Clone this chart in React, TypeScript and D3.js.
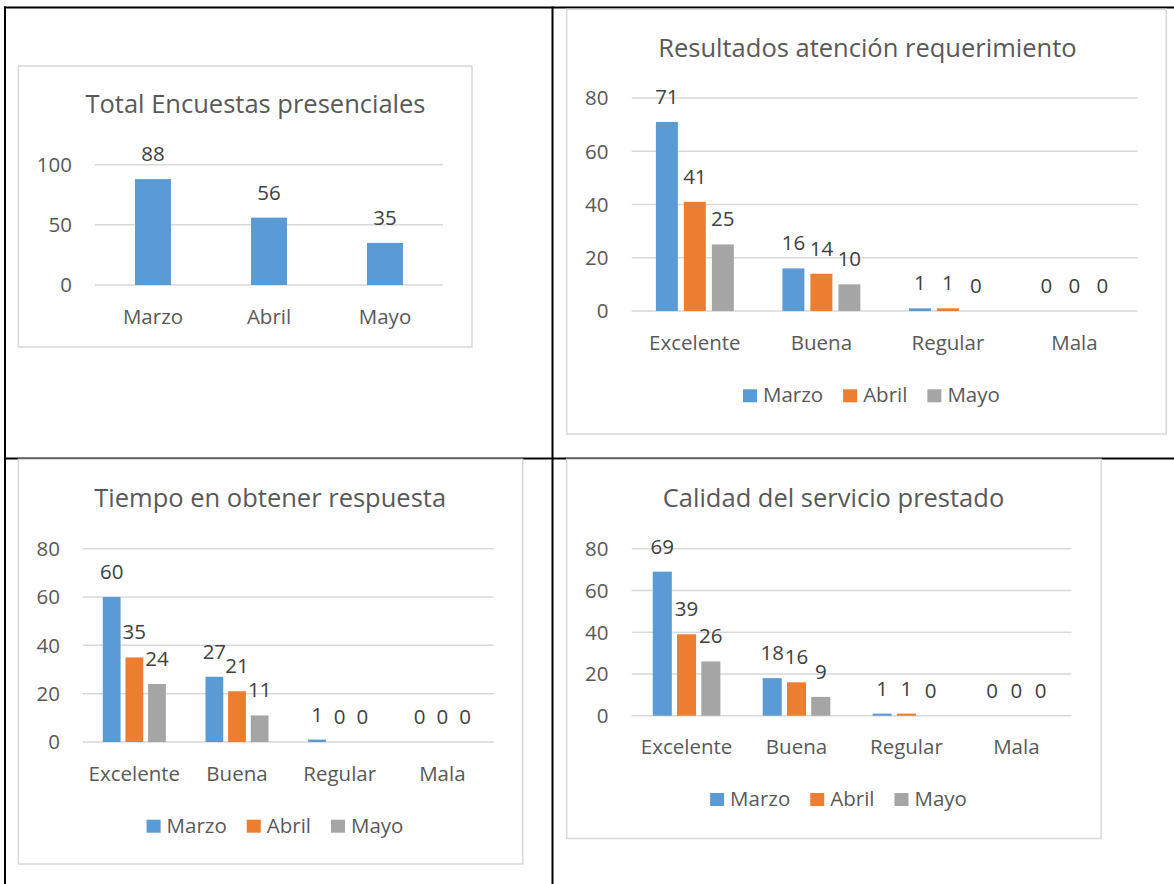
import React, { useEffect, useRef } from 'react';
import * as d3 from 'd3';

// Values
const months = ['Marzo', 'Abril', 'Mayo'];
const totalEncuestas = [88, 56, 35];

const ratings = ['Excelente', 'Buena', 'Regular', 'Mala'];

const atencionMarzo = [71, 16, 1, 0];
const atencionAbril = [41, 14, 1, 0];
const atencionMayo = [25, 10, 0, 0];

const tiempoMarzo = [60, 27, 1, 0];
const tiempoAbril = [35, 21, 0, 0];
const tiempoMayo = [24, 11, 0, 0];

const calidadMarzo = [69, 18, 1, 0];
const calidadAbril = [39, 16, 1, 0];
const calidadMayo = [26, 9, 0, 0];

const ticks100 = [0, 50, 100];
const ticks80 = [0, 20, 40, 60, 80];

const seriesColors = ['#5b9bd5', '#ed7d31', '#a5a5a5'];

const WIDTH = 1174;
const HEIGHT = 884;
const FONT = "'Open Sans', 'Liberation Sans', sans-serif";

interface Series {
  name: string;
  values: number[];
}

interface Panel {
  title: string;
  box: [number, number, number, number];
  titleX: number;
  titleY: number;
  plotX: [number, number];
  plotY: [number, number];
  yMax: number;
  ticks: number[];
  tickX: number;
  categories: string[];
  series: Series[];
  groupFrac: number;
  legend?: { cx: number; y: number };
}

const panels: Panel[] = [
  {
    title: 'Total Encuestas presenciales',
    box: [18.4, 66, 472, 347],
    titleX: 255.5,
    titleY: 112.5,
    plotX: [95, 443],
    plotY: [285, 164.7],
    yMax: 100,
    ticks: ticks100,
    tickX: 72,
    categories: months,
    series: [{ name: 'Total', values: totalEncuestas }],
    groupFrac: 0.31,
  },
  {
    title: 'Resultados atención requerimiento',
    box: [566.7, 9.3, 1166.3, 434],
    titleX: 867.4,
    titleY: 56.7,
    plotX: [631.6, 1137.7],
    plotY: [311, 98],
    yMax: 80,
    ticks: ticks80,
    tickX: 608.5,
    categories: ratings,
    series: [
      { name: 'Marzo', values: atencionMarzo },
      { name: 'Abril', values: atencionAbril },
      { name: 'Mayo', values: atencionMayo },
    ],
    groupFrac: 0.616,
    legend: { cx: 871.4, y: 402.3 },
  },
  {
    title: 'Tiempo en obtener respuesta',
    box: [18.4, 459.3, 522.8, 864],
    titleX: 270.2,
    titleY: 506.7,
    plotX: [83, 493.7],
    plotY: [742, 548.7],
    yMax: 80,
    ticks: ticks80,
    tickX: 60,
    categories: ratings,
    series: [
      { name: 'Marzo', values: tiempoMarzo },
      { name: 'Abril', values: tiempoAbril },
      { name: 'Mayo', values: tiempoMayo },
    ],
    groupFrac: 0.614,
    legend: { cx: 275, y: 832.7 },
  },
  {
    title: 'Calidad del servicio prestado',
    box: [566.7, 459.3, 1101.1, 838.5],
    titleX: 833.5,
    titleY: 506.7,
    plotX: [631.6, 1071.3],
    plotY: [715.7, 548.7],
    yMax: 80,
    ticks: ticks80,
    tickX: 608.5,
    categories: ratings,
    series: [
      { name: 'Marzo', values: calidadMarzo },
      { name: 'Abril', values: calidadAbril },
      { name: 'Mayo', values: calidadMayo },
    ],
    groupFrac: 0.615,
    legend: { cx: 838.5, y: 806 },
  },
];

const drawPanel = (root: d3.Selection<SVGGElement, unknown, null, undefined>, p: Panel) => {
  const g = root.append('g');
  const [bx0, by0, bx1, by1] = p.box;

  g.append('rect')
    .attr('x', bx0)
    .attr('y', by0)
    .attr('width', bx1 - bx0)
    .attr('height', by1 - by0)
    .attr('fill', '#fff')
    .attr('stroke', '#d9d9d9')
    .attr('stroke-width', 1.5);

  g.append('text')
    .attr('x', p.titleX)
    .attr('y', p.titleY)
    .attr('text-anchor', 'middle')
    .attr('font-size', 25.5)
    .attr('fill', '#595959')
    .text(p.title);

  const pad = 1 - p.groupFrac;
  const x = d3.scaleBand<string>().domain(p.categories).range(p.plotX).paddingInner(pad).paddingOuter(pad / 2);
  const xs = d3
    .scaleBand<string>()
    .domain(p.series.map(s => s.name))
    .range([0, x.bandwidth()])
    .paddingInner(p.series.length > 1 ? 0.215 : 0);
  const y = d3.scaleLinear().domain([0, p.yMax]).range(p.plotY);

  // Gridlines
  g.append('g')
    .selectAll('line')
    .data(p.ticks)
    .enter()
    .append('line')
    .attr('x1', p.plotX[0])
    .attr('x2', p.plotX[1])
    .attr('y1', d => y(d))
    .attr('y2', d => y(d))
    .attr('stroke', '#d9d9d9')
    .attr('stroke-width', 1.5);

  // Tick labels
  g.append('g')
    .selectAll('text')
    .data(p.ticks)
    .enter()
    .append('text')
    .attr('x', p.tickX)
    .attr('y', d => y(d) + 7.3)
    .attr('text-anchor', 'end')
    .attr('font-size', 20.5)
    .attr('fill', '#595959')
    .text(d => String(d));

  // Bars + value labels
  p.series.forEach((s, si) => {
    const color = p.series.length > 1 ? seriesColors[si] : seriesColors[0];
    const sg = g.append('g');
    sg.selectAll('rect')
      .data(s.values)
      .enter()
      .append('rect')
      .attr('x', (_, i) => (x(p.categories[i]) ?? 0) + (xs(s.name) ?? 0))
      .attr('y', d => y(d))
      .attr('width', xs.bandwidth())
      .attr('height', d => y(0) - y(d))
      .attr('fill', color);

    sg.selectAll('text')
      .data(s.values)
      .enter()
      .append('text')
      .attr('x', (_, i) => (x(p.categories[i]) ?? 0) + (xs(s.name) ?? 0) + xs.bandwidth() / 2)
      .attr('y', d => y(d) - 18)
      .attr('text-anchor', 'middle')
      .attr('font-size', 20.5)
      .attr('fill', '#404040')
      .text(d => String(d));
  });

  // Category labels
  g.append('g')
    .selectAll('text')
    .data(p.categories)
    .enter()
    .append('text')
    .attr('x', d => (x(d) ?? 0) + x.bandwidth() / 2)
    .attr('y', y(0) + 38.5)
    .attr('text-anchor', 'middle')
    .attr('font-size', 20.5)
    .attr('fill', '#595959')
    .text(d => d);

  // Legend
  if (p.legend) {
    const lg = g.append('g');
    const items = p.series.map((s, i) => {
      const item = lg.append('g');
      item.append('rect').attr('width', 14).attr('height', 13).attr('y', -13).attr('fill', seriesColors[i]);
      const t = item
        .append('text')
        .attr('x', 20)
        .attr('font-size', 20.5)
        .attr('fill', '#595959')
        .text(s.name);
      const w = 20 + ((t.node() as SVGTextElement).getComputedTextLength() || 56);
      return { item, w };
    });
    const gap = 20;
    const total = d3.sum(items, d => d.w) + gap * (items.length - 1);
    let cursor = p.legend.cx - total / 2;
    items.forEach(({ item, w }) => {
      item.attr('transform', `translate(${cursor},${p.legend!.y})`);
      cursor += w + gap;
    });
  }
};

const ReportCharts: React.FC = () => {
  const svgRef = useRef<SVGSVGElement>(null);

  useEffect(() => {
    if (!svgRef.current) return;
    const svg = d3.select(svgRef.current);
    svg.selectAll('*').remove();

    const root = svg.append('g').attr('font-family', FONT);

    // Table grid behind the charts
    const borders = root.append('g').attr('stroke', '#000').attr('stroke-width', 2);
    borders.append('line').attr('x1', 4).attr('x2', WIDTH).attr('y1', 7.5).attr('y2', 7.5);
    borders.append('line').attr('x1', 5).attr('x2', 5).attr('y1', 6.5).attr('y2', HEIGHT);
    borders.append('line').attr('x1', 552.5).attr('x2', 552.5).attr('y1', 6.5).attr('y2', HEIGHT);
    borders.append('line').attr('x1', 4).attr('x2', WIDTH).attr('y1', 458.5).attr('y2', 458.5);

    panels.forEach(p => drawPanel(root, p));
  }, []);

  return (
    <svg
      ref={svgRef}
      width={WIDTH}
      height={HEIGHT}
      viewBox={`0 0 ${WIDTH} ${HEIGHT}`}
      style={{ position: 'absolute', left: 0, top: 0, background: '#fff', display: 'block' }}
    />
  );
};

export default function App() {
  return <ReportCharts />;
}
